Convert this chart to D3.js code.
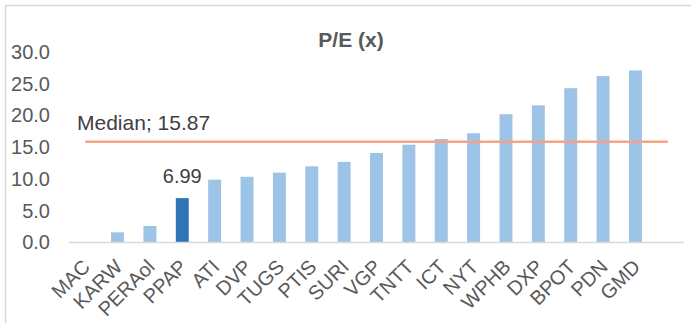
<!DOCTYPE html>
<html><head><meta charset="utf-8">
<script src="https://cdn.jsdelivr.net/npm/d3@7"></script>
<style>body{margin:0;background:#fff;font-family:"Liberation Sans",Arial,sans-serif;}</style>
</head><body><svg id="c" width="691" height="323"></svg>
<script>
const categories = ["MAC","KARW","PERAol","PPAP","ATI","DVP","TUGS","PTIS","SURI","VGP","TNTT","ICT","NYT","WPHB","DXP","BPOT","PDN","GMD",""];
const peValues = [0,1.6,2.6,6.99,9.9,10.35,11.0,12.0,12.7,14.1,15.4,16.3,17.2,20.2,21.6,24.3,26.2,27.1,null];
const highlight = "PPAP";
const median = 15.87;
const yTicks = [0,5,10,15,20,25,30];
const title = "P/E (x)";

const svg = d3.select("#c");
svg.append("rect").attr("x",5.5).attr("y",5.5).attr("width",800).attr("height",400)
  .attr("fill","none").attr("stroke","#D9D9D9").attr("stroke-width",1.5);

const x = d3.scaleBand().domain(categories.map((d,i)=>i)).range([69,684]).padding(0);
const y = d3.scaleLinear().domain([0,30]).range([242.5,52]);
const bw = x.bandwidth()*0.4;

// title
svg.append("text").attr("x",351).attr("y",47).attr("text-anchor","middle")
  .attr("font-size",21).attr("font-weight","bold").attr("fill","#595959").text(title);

// y labels
const yAxis = d3.axisLeft(y).tickValues(yTicks).tickFormat(d3.format(".1f")).tickSize(0).tickPadding(0);
const ga = svg.append("g").attr("transform","translate(50,0)").call(yAxis);
ga.select(".domain").remove();
ga.selectAll("text").attr("font-size",20).attr("fill","#595959").attr("font-family","Liberation Sans, Arial, sans-serif");

// bars
svg.append("g").selectAll("rect").data(peValues.map((v,i)=>({v,i,c:categories[i]})).filter(d=>d.v!==null && d.v>0))
  .join("rect")
  .attr("x",d=>x(d.i)+x.bandwidth()/2-bw/2).attr("width",bw)
  .attr("y",d=>y(d.v)).attr("height",d=>y(0)-y(d.v))
  .attr("fill",d=>d.c===highlight?"#2E75B6":"#9DC3E6");

// baseline
svg.append("line").attr("x1",69).attr("x2",684).attr("y1",y(0)).attr("y2",y(0))
  .attr("stroke","#D9D9D9").attr("stroke-width",1.5);

// median line
const i0 = 0, i1 = categories.length-1;
svg.append("line").attr("x1",x(i0)+x.bandwidth()/2).attr("x2",x(i1)+x.bandwidth()/2)
  .attr("y1",y(median)).attr("y2",y(median)).attr("stroke","#F8A383").attr("stroke-width",2.5);
svg.append("text").attr("x",77).attr("y",130).attr("font-size",21).attr("fill","#404040")
  .text("Median; " + median.toFixed(2));

// data label
const hi = categories.indexOf(highlight);
svg.append("text").attr("x",x(hi)+x.bandwidth()/2).attr("y",y(peValues[hi])-15)
  .attr("text-anchor","middle").attr("font-size",20).attr("fill","#404040").text(peValues[hi].toFixed(2));

// x labels
svg.append("g").selectAll("text").data(categories.map((c,i)=>({c,i})).filter(d=>d.c))
  .join("text")
  .attr("transform",d=>`translate(${x(d.i)+x.bandwidth()/2+6},268) rotate(-45)`)
  .attr("text-anchor","end").attr("font-size",20).attr("fill","#595959").text(d=>d.c);
</script></body></html>
